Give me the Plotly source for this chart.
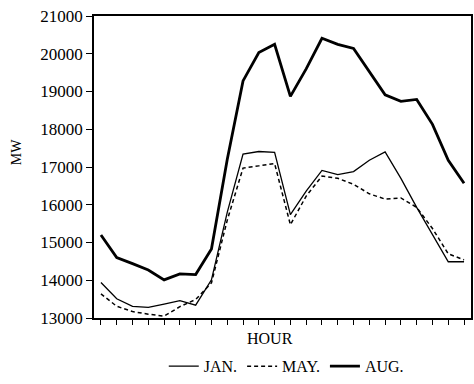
import plotly.graph_objects as go

hours = list(range(1, 25))
jan = [13940, 13510, 13310, 13280, 13370, 13460, 13340, 14010, 15800, 17340, 17410, 17390,
       15740, 16360, 16910, 16800, 16880, 17180, 17400, 16700, 15930, 15210, 14490, 14490]
may = [13640, 13310, 13170, 13100, 13050, 13300, 13490, 13930, 15590, 16970, 17030, 17090,
       15470, 16230, 16760, 16700, 16540, 16290, 16150, 16180, 15930, 15370, 14700, 14540]
aug = [15200, 14600, 14440, 14270, 14010, 14170, 14150, 14830, 17200, 19280, 20030, 20250,
       18870, 19600, 20410, 20250, 20140, 19530, 18910, 18740, 18790, 18130, 17180, 16570]
series_names = ["JAN.", "MAY.", "AUG."]
y_ticks = [13000, 14000, 15000, 16000, 17000, 18000, 19000, 20000, 21000]

FONT = "Liberation Serif"

fig = go.Figure()
fig.add_trace(go.Scatter(x=hours, y=jan, mode="lines", name=series_names[0],
                         line=dict(color="black", width=1.3)))
fig.add_trace(go.Scatter(x=hours, y=may, mode="lines", name=series_names[1],
                         line=dict(color="black", width=1.5, dash="4px,3px")))
fig.add_trace(go.Scatter(x=hours, y=aug, mode="lines", name=series_names[2],
                         line=dict(color="black", width=2.8)))

fig.update_layout(
    width=474, height=384,
    margin=dict(l=94, r=1, t=16, b=59),
    paper_bgcolor="white", plot_bgcolor="white",
    font=dict(family=FONT, size=16, color="black"),
    showlegend=True,
    legend=dict(orientation="h", x=0.51, xanchor="center", y=-0.16, yanchor="middle",
                font=dict(family=FONT, size=16, color="black"),
                bgcolor="rgba(0,0,0,0)", itemwidth=30, tracegroupgap=0),
)
fig.update_xaxes(
    range=[0.56, 24.44], tickvals=hours, ticktext=[""] * len(hours),
    ticks="outside", ticklen=5, tickwidth=1.3, tickcolor="black",
    showline=True, linecolor="black", linewidth=1.5, mirror=True,
    showgrid=False, zeroline=False,
)
fig.update_yaxes(
    range=[13000, 21000], tickvals=y_ticks, ticktext=[str(v) for v in y_ticks],
    ticks="outside", ticklen=6, tickwidth=1.3, tickcolor="black",
    showline=True, linecolor="black", linewidth=1.5, mirror=True,
    showgrid=False, zeroline=False,
    tickfont=dict(family=FONT, size=17, color="black"),
)
fig.add_annotation(text="HOUR", xref="paper", yref="paper",
                   x=(271 - 94) / 379, y=(325 - 346) / 309,
                   xanchor="center", yanchor="middle", showarrow=False,
                   font=dict(family=FONT, size=16, color="black"))
fig.add_annotation(text="MW", xref="paper", yref="paper",
                   x=(16 - 94) / 379, y=(325 - 155) / 309, textangle=-90,
                   xanchor="center", yanchor="middle", showarrow=False,
                   font=dict(family=FONT, size=14, color="black"))

page_css = ("var s='margin:0;padding:0;overflow:hidden;width:474px;height:384px;';"
            "document.documentElement.style.cssText=s;"
            "document.body.style.cssText=s;")
fig.write_html("out.html", config={"displayModeBar": False}, post_script=page_css)
